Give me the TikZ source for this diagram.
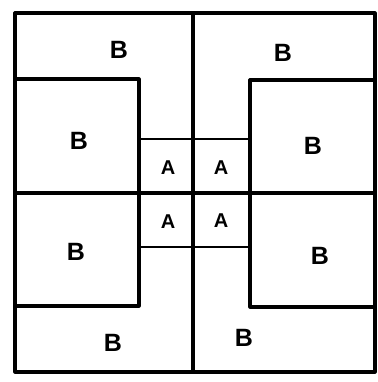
\documentclass[tikz,border=0pt]{standalone}
\usepackage{fontspec}
\setmainfont{Liberation Sans}
\begin{document}
\begin{tikzpicture}[x=1pt,y=-1pt,
  wall/.style={line width=3.2pt,line cap=round,line join=round},
  thin/.style={line width=2.6pt,line cap=round},
  lbl/.style={font=\fontsize{25}{25}\selectfont\bfseries},
  albl/.style={font=\fontsize{20}{20}\selectfont\bfseries}]
\useasboundingbox (0,0) rectangle (377,382);
% outer boundary
\draw[wall] (15,13) rectangle (375,372);
% central cross
\draw[wall] (193,13) -- (193,372);
\draw[wall] (15,193) -- (375,193);
% left inner box
\draw[wall] (15,79) -- (139,79) -- (139,306) -- (15,306);
% right inner box
\draw[wall] (375,80) -- (250,80) -- (250,307) -- (375,307);
% A grid lines
\draw[thin] (139,139) -- (250,139);
\draw[thin] (139,247) -- (250,247);
% labels
\node[lbl] (b1) at (119,50) {B};
\node[lbl] (b2) at (283,53) {B};
\node[lbl] (b3) at (79,141) {B};
\node[lbl] (b4) at (313,146) {B};
\node[lbl] (b5) at (76,252) {B};
\node[lbl] (b6) at (320,256) {B};
\node[lbl] (b7) at (113,343) {B};
\node[lbl] (b8) at (244,338) {B};
\node[albl] (a1) at (168,168) {A};
\node[albl] (a2) at (221,168) {A};
\node[albl] (a3) at (168,222) {A};
\node[albl] (a4) at (221,221) {A};
\end{tikzpicture}
\end{document}
